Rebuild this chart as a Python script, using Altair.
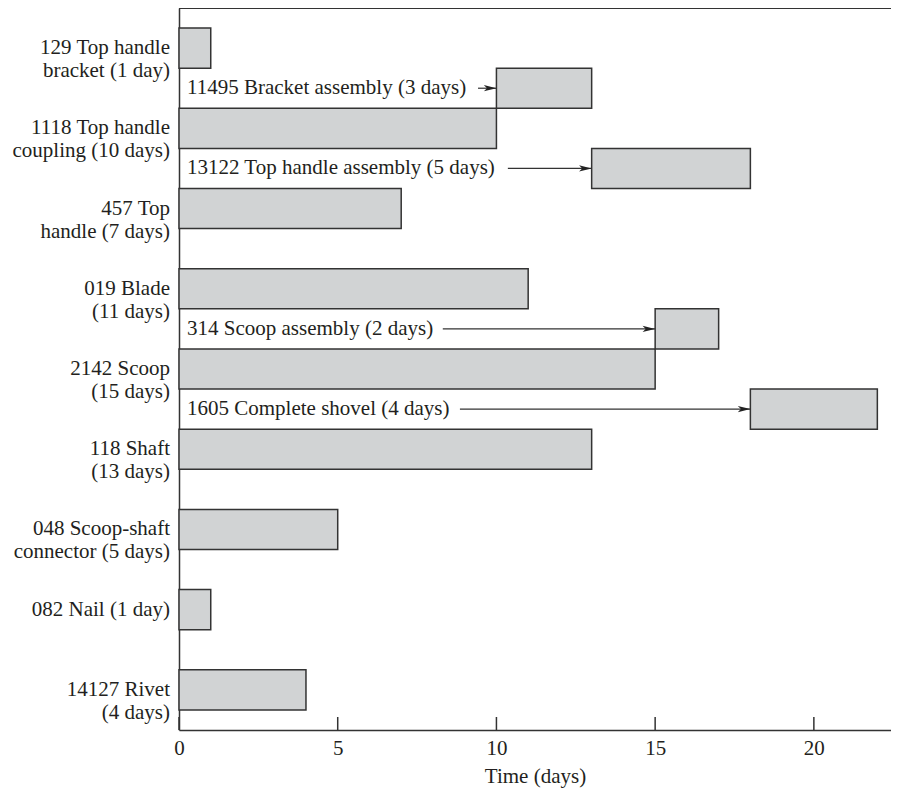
import altair as alt
import pandas as pd

# Component parts (left-labelled bars)
part_rows = [0, 2, 4, 6, 8, 10, 12, 14, 16]
part_labels = [
    "129 Top handle\nbracket (1 day)",
    "1118 Top handle\ncoupling (10 days)",
    "457 Top\nhandle (7 days)",
    "019 Blade\n(11 days)",
    "2142 Scoop\n(15 days)",
    "118 Shaft\n(13 days)",
    "048 Scoop-shaft\nconnector (5 days)",
    "082 Nail (1 day)",
    "14127 Rivet\n(4 days)",
]
part_start = [0, 0, 0, 0, 0, 0, 0, 0, 0]
part_end = [1, 10, 7, 11, 15, 13, 5, 1, 4]

# Assemblies (inline-labelled bars with arrows)
asm_rows = [1, 3, 7, 9]
asm_labels = [
    "11495 Bracket assembly (3 days)",
    "13122 Top handle assembly (5 days)",
    "314 Scoop assembly (2 days)",
    "1605 Complete shovel (4 days)",
]
asm_start = [10, 13, 15, 18]
asm_end = [13, 18, 17, 22]
asm_arrow_from = [9.42, 10.36, 8.31, 8.85]

tick_values = [0, 5, 10, 15, 20]

W, H = 712, 722
FONT = "Liberation Serif"
TXT = "#231f20"
LINE = "#333333"

parts = pd.DataFrame({"row": part_rows, "label": part_labels, "start": part_start, "end": part_end})
asms = pd.DataFrame({"row": asm_rows, "label": asm_labels, "start": asm_start, "end": asm_end,
                     "afrom": asm_arrow_from})
bars_df = pd.concat([parts, asms[["row", "label", "start", "end"]]], ignore_index=True)
for d in (bars_df, parts, asms):
    d["y0"] = d["row"] + 0.5
    d["y1"] = d["row"] + 1.5
    d["yc"] = d["row"] + 1.0
ticks_df = pd.DataFrame({"t": tick_values})

xs = alt.Scale(domain=[0, 22.43], nice=False, zero=False)
ys = alt.Scale(domain=[0, 18], reverse=True, nice=False, zero=False)

x_axis = alt.Axis(values=tick_values, tickSize=0, grid=False, labelFlush=False,
                  title="Time (days)")
y_axis = alt.Axis(title=None, labels=False, ticks=False, grid=False)

bars = alt.Chart(bars_df).mark_bar(fill="#d1d3d4", stroke=LINE, strokeWidth=1.5).encode(
    x=alt.X("start:Q", scale=xs, axis=x_axis),
    x2="end:Q",
    y=alt.Y("y0:Q", scale=ys, axis=y_axis),
    y2="y1:Q",
)

left_text = alt.Chart(parts).mark_text(
    align="right", baseline="middle", font=FONT, fontSize=21, lineHeight=23,
    lineBreak="\n", color=TXT
).encode(x=alt.value(-9), y=alt.Y("yc:Q", scale=ys, axis=y_axis), text="label:N")

asm_text = alt.Chart(asms).mark_text(
    align="left", baseline="middle", font=FONT, fontSize=21, color=TXT
).encode(x=alt.value(8), y=alt.Y("yc:Q", scale=ys, axis=y_axis), text="label:N")

arrows = alt.Chart(asms).mark_rule(color=LINE, strokeWidth=1.2).encode(
    x=alt.X("afrom:Q", scale=xs, axis=x_axis), x2="start:Q",
    y=alt.Y("yc:Q", scale=ys, axis=y_axis))

heads = alt.Chart(asms).mark_point(
    shape="M0,0L-2.4,-0.6L-1.8,0L-2.4,0.6Z", size=110, filled=True, color="#222222", opacity=1
).encode(x=alt.X("start:Q", scale=xs, axis=x_axis), y=alt.Y("yc:Q", scale=ys, axis=y_axis))

ticks = alt.Chart(ticks_df).mark_rule(color=LINE, strokeWidth=1.5).encode(
    x=alt.X("t:Q", scale=xs, axis=x_axis), y=alt.value(H - 13), y2=alt.value(H))

top = alt.Chart(ticks_df.head(1)).mark_rule(color=LINE, strokeWidth=2).encode(
    x=alt.value(0), x2=alt.value(W), y=alt.value(0))

chart = alt.layer(bars, arrows, heads, left_text, asm_text, ticks, top).properties(
    width=W, height=H,
    autosize=alt.AutoSizeParams(type="none"),
    padding={"left": 171, "top": 0, "right": 0, "bottom": 60},
).configure_view(stroke=None).configure(background="white").configure_axis(
    domainColor=LINE, domainWidth=1.5,
    labelFont=FONT, labelFontSize=21, labelColor=TXT, labelPadding=7,
    titleFont=FONT, titleFontSize=21, titleFontWeight="normal", titleColor=TXT, titlePadding=7,
)

chart.save("out.html", embed_options={"renderer": "svg", "actions": False})
